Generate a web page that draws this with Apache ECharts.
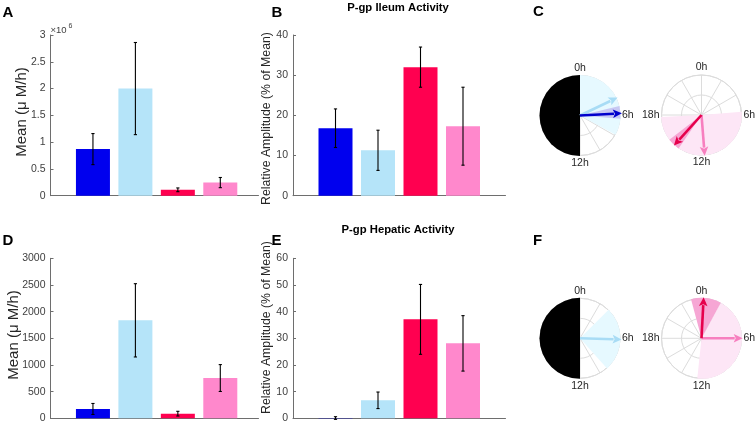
<!DOCTYPE html>
<html><head><meta charset="utf-8">
<script src="https://cdn.jsdelivr.net/npm/echarts@6/dist/echarts.min.js"></script>
<style>html,body{margin:0;padding:0;background:#fff}#c{width:756px;height:427px}</style>
</head><body><div id="c"></div>
<script>
// ---------- data ----------
const groups = ['Group 1', 'Group 2', 'Group 3', 'Group 4'];
const groupPos = [1, 2, 3, 4];

const ileumMean = [0.87e6, 2.0e6, 0.11e6, 0.245e6];
const ileumMeanErr = [0.29e6, 0.86e6, 0.035e6, 0.095e6];
const ileumAmp = [16.8, 11.3, 32.0, 17.3];
const ileumAmpErr = [4.8, 5.0, 5.0, 9.7];

const hepaticMean = [175, 1837, 87, 755];
const hepaticMeanErr = [103, 687, 44, 252];
const hepaticAmp = [0.1, 6.75, 37.1, 28.1];
const hepaticAmpErr = [0.5, 3.1, 13.1, 10.4];

// phases in hours (0h top, clockwise), arrow lengths (normalised), CI sectors [from, to]
const ileumPhase = [5.8, 4.3, 14.8, 11.7];
const ileumPhaseLen = [1.05, 1.04, 1.03, 1.02];
const ileumPhaseCI = [[5.1, 6.3], [0, 7.9], [14.3, 15.5], [5.7, 17.8]];
const hepaticPhase = [null, 6.1, 0.2, 6.0];
const hepaticPhaseLen = [null, 1.04, 1.03, 1.03];
const hepaticPhaseCI = [null, [3.0, 9.2], [-1.0, 1.9], [1.9, 12.4]];
const darkPhase = [12, 24];

const meanTicksA = [0, 3e6, 0.5e6];
const meanTicksD = [0, 3000, 500];
const ampTicksB = [0, 40, 10];
const ampTicksE = [0, 60, 10];
const hourLabels = [0, 6, 12, 18];

// ---------- styles ----------
const FONT = '"Liberation Sans", Arial, Helvetica, sans-serif';
const barColors = ['#0000ee', '#b5e4f9', '#ff0050', '#ff88cc'];
const sectorColors = ['#c8c8f3', '#e6f9ff', '#f6a6d4', '#fde6f6'];
const arrowColors = ['#0000cc', '#a8dcf5', '#e6004c', '#f77fbf'];
const axisGray = '#6e6e6e';
const labelGray = '#404040';

const chart = echarts.init(document.getElementById('c'), null, {renderer: 'canvas'});

const grids = [
  {left: 50.5, top: 35, width: 208, height: 160.7, outerBoundsMode: 'none'},
  {left: 293, top: 35, width: 212.5, height: 160.7, outerBoundsMode: 'none'},
  {left: 50.5, top: 258.3, width: 208, height: 160, outerBoundsMode: 'none'},
  {left: 293, top: 258.3, width: 212.5, height: 160, outerBoundsMode: 'none'}
];
const xMax = [4.9, 5, 4.9, 5];
const yTicks = [meanTicksA, ampTicksB, meanTicksD, ampTicksE];
const yFmt = [v => String(v / 1e6), v => String(v), v => String(v), v => String(v)];

const xAxes = grids.map((g, i) => ({
  type: 'value', gridIndex: i, min: 0, max: xMax[i],
  axisLine: {show: true, lineStyle: {color: axisGray, width: 1}},
  axisTick: {show: false}, axisLabel: {show: false}, splitLine: {show: false}
}));
const yAxes = grids.map((g, i) => ({
  type: 'value', gridIndex: i, min: yTicks[i][0], max: yTicks[i][1], interval: yTicks[i][2],
  axisLine: {show: true, lineStyle: {color: axisGray, width: 1}},
  axisTick: {show: true, inside: true, length: 3, lineStyle: {color: axisGray}},
  axisLabel: {color: labelGray, fontSize: 10.5, fontFamily: FONT, margin: 5, formatter: yFmt[i]},
  splitLine: {show: false}
}));

const panels = [
  [ileumMean, ileumMeanErr], [ileumAmp, ileumAmpErr],
  [hepaticMean, hepaticMeanErr], [hepaticAmp, hepaticAmpErr]
];

const series = [];
panels.forEach((p, i) => {
  series.push({
    type: 'bar', xAxisIndex: i, yAxisIndex: i, barWidth: 34, silent: true,
    data: groupPos.map((x, k) => ({name: groups[k], value: [x, p[0][k]], itemStyle: {color: barColors[k]}}))
  });
  series.push({
    type: 'custom', xAxisIndex: i, yAxisIndex: i, silent: true, z: 5,
    data: groupPos.map((x, k) => [x, p[0][k] - p[1][k], p[0][k] + p[1][k]]),
    encode: {x: 0, y: [1, 2]},
    renderItem: function (params, api) {
      const x = api.value(0);
      const lo = api.coord([x, api.value(1)]);
      const hi = api.coord([x, api.value(2)]);
      const w = 1.6;
      const st = {stroke: '#000', lineWidth: 1.1};
      return {type: 'group', children: [
        {type: 'line', shape: {x1: hi[0], y1: hi[1], x2: lo[0], y2: lo[1]}, style: st},
        {type: 'line', shape: {x1: hi[0] - w, y1: hi[1], x2: hi[0] + w, y2: hi[1]}, style: st},
        {type: 'line', shape: {x1: lo[0] - w, y1: lo[1], x2: lo[0] + w, y2: lo[1]}, style: st}
      ]};
    }
  });
});

// ---------- polar plots ----------
const polarCenters = [[580, 115.5], [701.5, 115], [580, 338.3], [701.5, 338.3]];
const polars = polarCenters.map(c => ({center: c, radius: 40}));
const angleAxes = polars.map((p, i) => ({
  polarIndex: i, type: 'value', min: 0, max: 24, interval: 2, startAngle: 90, clockwise: true,
  axisLine: {show: true, lineStyle: {color: '#dcdcdc', width: 1}},
  axisTick: {show: false},
  splitLine: {show: true, lineStyle: {color: '#dcdcdc', width: 1}},
  axisLabel: {
    color: '#262626', fontSize: 10.5, fontFamily: FONT, margin: 2,
    formatter: v => (hourLabels.indexOf(v) >= 0 && !(i % 2 === 0 && v === 18)) ? v + 'h' : ''
  }
}));
const radiusAxes = polars.map((p, i) => ({
  polarIndex: i, type: 'value', min: 0, max: 1, interval: 0.5,
  axisLine: {show: false}, axisTick: {show: false}, axisLabel: {show: false},
  splitLine: {show: true, lineStyle: {color: '#dcdcdc', width: 1}}
}));

function sectorRender(params, api) {
  const cs = params.coordSys;
  const h1 = api.value(1), h2 = api.value(2), g = api.value(3);
  const p1 = api.coord([1, h1]);
  const a1 = Math.atan2(p1[1] - cs.cy, p1[0] - cs.cx);
  const span = (h2 - h1) / 24 * Math.PI * 2;
  return {
    type: 'sector',
    shape: {cx: cs.cx, cy: cs.cy, r0: 0, r: cs.r + 0.5, startAngle: a1, endAngle: a1 + span, clockwise: true},
    style: {fill: g < 0 ? '#000' : sectorColors[g], stroke: null}
  };
}
function arrowRender(params, api) {
  const cs = params.coordSys;
  const g = api.value(2);
  const tip = api.coord([api.value(0), api.value(1)]);
  const dx = tip[0] - cs.cx, dy = tip[1] - cs.cy;
  const L = Math.sqrt(dx * dx + dy * dy);
  const ux = dx / L, uy = dy / L, px = -uy, py = ux;
  const hl = 9, hw = 4.3;
  const bx = tip[0] - ux * hl, by = tip[1] - uy * hl;
  const col = arrowColors[g];
  return {type: 'group', children: [
    {type: 'line', shape: {x1: cs.cx, y1: cs.cy, x2: bx + ux * 1, y2: by + uy * 1}, style: {stroke: col, lineWidth: 2.6}},
    {type: 'polygon', shape: {points: [[tip[0], tip[1]], [bx + px * hw, by + py * hw], [bx + ux * 2, by + uy * 2], [bx - px * hw, by - py * hw]]}, style: {fill: col}}
  ]};
}

const polarSets = [
  {pi: 0, tissue: 'ileum', gs: [0, 1], dark: true},
  {pi: 1, tissue: 'ileum', gs: [2, 3], dark: false},
  {pi: 2, tissue: 'hepatic', gs: [0, 1], dark: true},
  {pi: 3, tissue: 'hepatic', gs: [2, 3], dark: false}
];
polarSets.forEach(s => {
  const ph = s.tissue === 'ileum' ? ileumPhase : hepaticPhase;
  const len = s.tissue === 'ileum' ? ileumPhaseLen : hepaticPhaseLen;
  const ci = s.tissue === 'ileum' ? ileumPhaseCI : hepaticPhaseCI;
  const sec = [];
  if (s.dark) sec.push([1, darkPhase[0], darkPhase[1], -1]);
  [s.gs[1], s.gs[0]].forEach(g => { if (ci[g]) sec.push([1, ci[g][0], ci[g][1], g]); });
  series.push({type: 'custom', coordinateSystem: 'polar', polarIndex: s.pi, silent: true, z: 2,
    data: sec, encode: {radius: 0, angle: 1}, renderItem: sectorRender});
  const arr = [];
  [s.gs[1], s.gs[0]].forEach(g => { if (ph[g] !== null) arr.push([len[g], ph[g], g]); });
  series.push({type: 'custom', coordinateSystem: 'polar', polarIndex: s.pi, silent: true, z: 4,
    data: arr, encode: {radius: 0, angle: 1}, renderItem: arrowRender});
});

// ---------- texts ----------
function txt(text, x, y, size, bold) {
  return {type: 'text', x: x, y: y, silent: true, style: {
    text: text, fill: '#000', font: (bold ? 'bold ' : '') + size + 'px ' + FONT,
    align: 'left', verticalAlign: 'middle'}};
}
function vtxt(text, x, y, size) {
  return {type: 'text', x: x, y: y, rotation: Math.PI / 2, silent: true, style: {
    text: text, fill: '#262626', font: size + 'px ' + FONT, align: 'center', verticalAlign: 'middle'}};
}
const graphics = [
  txt('A', 2.5, 12.5, 15, true), txt('B', 271.5, 12.5, 15, true), txt('C', 533, 11.5, 15, true),
  txt('D', 2.5, 240.5, 15, true), txt('E', 271.5, 240.5, 15, true), txt('F', 533, 240.5, 15, true),
  {type: 'text', x: 398, y: 7.5, silent: true, style: {text: 'P-gp Ileum Activity', fill: '#000', font: 'bold 11.3px ' + FONT, align: 'center', verticalAlign: 'middle'}},
  {type: 'text', x: 398, y: 229.5, silent: true, style: {text: 'P-gp Hepatic Activity', fill: '#000', font: 'bold 11.3px ' + FONT, align: 'center', verticalAlign: 'middle'}},
  vtxt('Mean (\u03bc M/h)', 21.5, 112, 15),
  vtxt('Mean (\u03bc M/h)', 13.5, 335, 15),
  vtxt('Relative Amplitude (% of Mean)', 266.5, 118.5, 12.3),
  vtxt('Relative Amplitude (% of Mean)', 266.5, 327.5, 12.3),
  {type: 'text', x: 50.5, y: 30.5, silent: true, style: {text: '\u00d710', fill: labelGray, font: '9.5px ' + FONT, align: 'left', verticalAlign: 'middle'}},
  {type: 'text', x: 68.5, y: 26.5, silent: true, style: {text: '6', fill: labelGray, font: '7px ' + FONT, align: 'left', verticalAlign: 'middle'}}
];

chart.setOption({
  animation: false,
  backgroundColor: '#fff',
  textStyle: {fontFamily: FONT},
  grid: grids,
  xAxis: xAxes,
  yAxis: yAxes,
  polar: polars,
  angleAxis: angleAxes,
  radiusAxis: radiusAxes,
  series: series,
  graphic: graphics
});
</script></body></html>
